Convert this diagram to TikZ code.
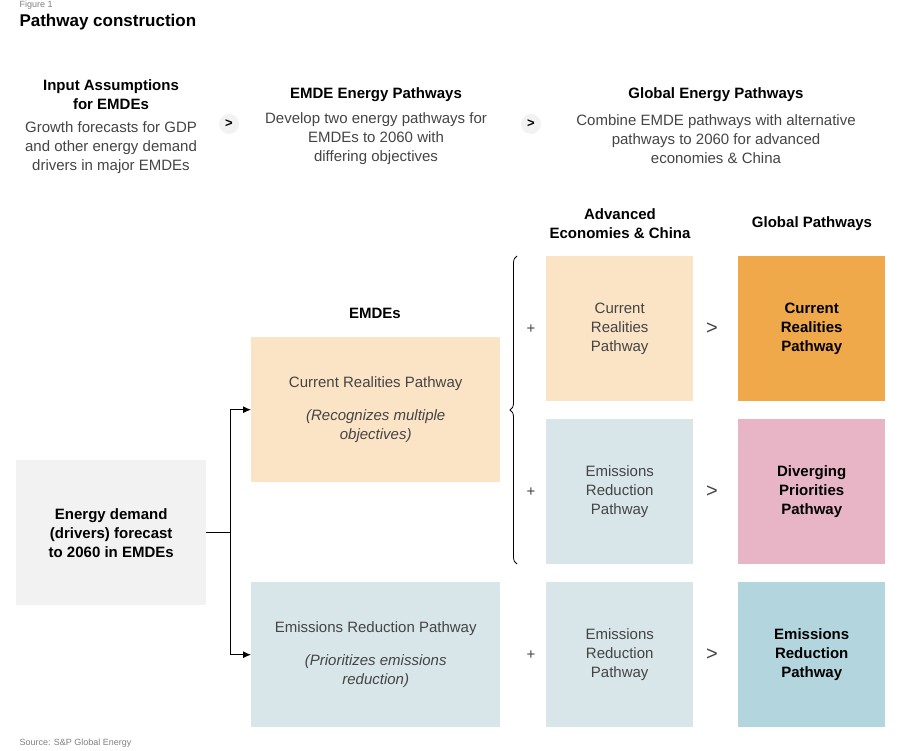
\documentclass[tikz,border=0pt]{standalone}
\usepackage{fontspec}
\setmainfont{Liberation Sans}
\usetikzlibrary{arrows.meta,decorations.pathreplacing}
\definecolor{peach}{HTML}{FBE3C6}
\definecolor{lblue}{HTML}{D9E6E9}
\definecolor{lgray}{HTML}{F2F2F2}
\definecolor{orange}{HTML}{EFA84A}
\definecolor{pink}{HTML}{E7B5C5}
\definecolor{teal}{HTML}{B3D5DD}
\definecolor{txt}{HTML}{444444}
\begin{document}
\begin{tikzpicture}[x=1pt,y=-1pt,
 box/.style={inner sep=0pt,anchor=north west,align=center,font=\fontsize{15}{19}\selectfont,text=txt},
 bold/.style={font=\bfseries\fontsize{15}{19}\selectfont,text=black,align=center},
 desc/.style={font=\fontsize{15}{19}\selectfont,text=txt,align=center},
 sym/.style={font=\fontsize{15}{19}\selectfont,text=txt}]
\useasboundingbox (0,0) rectangle (902,750);
\clip (0,0) rectangle (902,750);
\node[anchor=west,text=gray,font=\fontsize{9}{10}\selectfont] at (16,5) {Figure 1};
\node[anchor=west,font=\bfseries\fontsize{17}{20}\selectfont] (title) at (16,22) {Pathway construction};
% top row
\node[bold] (h1) at (111,95) {Input Assumptions\\for EMDEs};
\node[desc] (d1) at (111,148) {Growth forecasts for GDP\\and other energy demand\\drivers in major EMDEs};
\node[bold] (h2) at (376,95) {EMDE Energy Pathways};
\node[desc] (d2) at (376,139) {Develop two energy pathways for\\EMDEs to 2060 with\\differing objectives};
\node[bold] (h3) at (716,95) {Global Energy Pathways};
\node[desc] (d3) at (716,139) {Combine EMDE pathways with alternative\\pathways to 2060 for advanced\\economies \& China};
\foreach \n/\x in {c1/229,c2/531}{
 \node[circle,fill=lgray,minimum size=20pt,inner sep=0pt,font=\bfseries\fontsize{13}{13}\selectfont] (\n) at (\x,124) {>};}
% headers
\node[bold] (hE) at (375,313) {EMDEs};
\node[bold] (hA) at (620,224) {Advanced\\Economies \& China};
\node[bold] (hG) at (812,224) {Global Pathways};
% boxes
\node[box,fill=lgray,minimum width=190pt,minimum height=145pt,text=black,font=\bfseries\fontsize{15}{19}\selectfont] (ed) at (16,460) {Energy demand\\(drivers) forecast\\to 2060 in EMDEs};
\node[box,fill=peach,minimum width=249pt,minimum height=145pt] (ec) at (251,337) {Current Realities Pathway\\[14pt]\textit{(Recognizes multiple}\\\textit{objectives)}};
\node[box,fill=lblue,minimum width=249pt,minimum height=145pt] (ee) at (251,582) {Emissions Reduction Pathway\\[14pt]\textit{(Prioritizes emissions}\\\textit{reduction)}};
\node[box,fill=peach,minimum width=147pt,minimum height=145pt] (a1) at (546,256) {Current\\Realities\\Pathway};
\node[box,fill=lblue,minimum width=147pt,minimum height=145pt] (a2) at (546,419) {Emissions\\Reduction\\Pathway};
\node[box,fill=lblue,minimum width=147pt,minimum height=145pt] (a3) at (546,582) {Emissions\\Reduction\\Pathway};
\node[box,fill=orange,minimum width=147pt,minimum height=145pt,text=black,font=\bfseries\fontsize{15}{19}\selectfont] (g1) at (738,256) {Current\\Realities\\Pathway};
\node[box,fill=pink,minimum width=147pt,minimum height=145pt,text=black,font=\bfseries\fontsize{15}{19}\selectfont] (g2) at (738,419) {Diverging\\Priorities\\Pathway};
\node[box,fill=teal,minimum width=147pt,minimum height=145pt,text=black,font=\bfseries\fontsize{15}{19}\selectfont] (g3) at (738,582) {Emissions\\Reduction\\Pathway};
% connectors
\coordinate (j) at (230,0 |- ed.east);
\draw[line width=1pt] (ed.east) -- (j);
\draw[line width=1pt,-{Latex[length=8pt,width=7pt]}] (j) |- (ec.west);
\draw[line width=1pt,-{Latex[length=8pt,width=7pt]}] (j) |- (ee.west);
\draw[line width=0.8pt,decorate,decoration={brace,amplitude=7pt}] (517,564) -- (517,256);
\foreach \y in {329,492,655}{
 \node[sym] at (531,\y) {+};
 \node[sym,font=\fontsize{20}{20}\selectfont] at (712,\y) {\textgreater};}
\node[anchor=west,text=gray,font=\fontsize{9}{10}\selectfont] at (16,743) {Source: S\&P Global Energy};
\end{tikzpicture}
\end{document}
